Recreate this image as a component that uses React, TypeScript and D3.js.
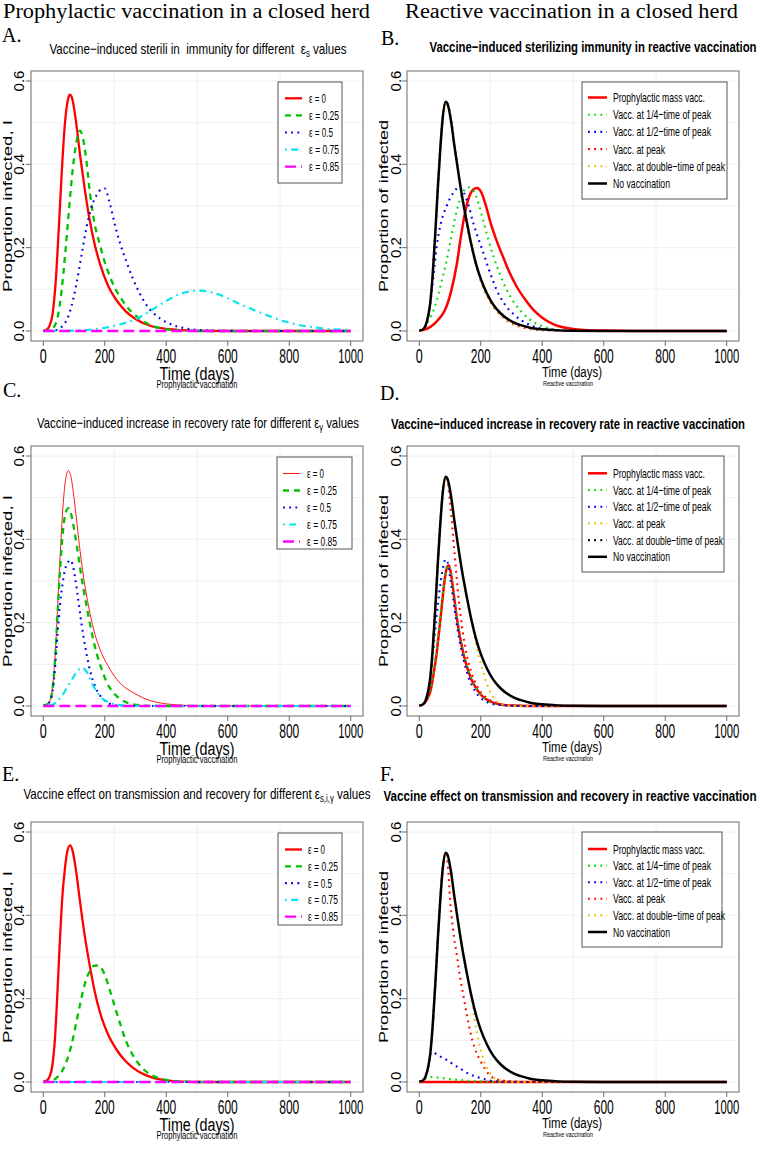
import React from 'react';
import * as d3 from 'd3';

type Pt = [number, number];

// ---------------- data ----------------
const xTickValues = [0, 200, 400, 600, 800, 1000];
const xTickLabels = ['0', '200', '400', '600', '800', '1000'];
const yTickValues = [0, 0.2, 0.4, 0.6];
const yTickLabels = ['0.0', '0.2', '0.4', '0.6'];
const gridValues = [0, 0.1, 0.2, 0.3, 0.4, 0.5, 0.6];

const columnHeaders = ['Prophylactic vaccination in a closed herd', 'Reactive vaccination in a closed herd'];
const panelLetters = ['A.', 'B.', 'C.', 'D.', 'E.', 'F.'];
const epsilonLabels = ['ε = 0', 'ε = 0.25', 'ε = 0.5', 'ε = 0.75', 'ε = 0.85'];
const reactiveLabels = ['Prophylactic mass vacc.', 'Vacc. at 1/4−time of peak', 'Vacc. at 1/2−time of peak', 'Vacc. at peak', 'Vacc. at double−time of peak', 'No vaccination'];
const xAxisTitle = 'Time (days)';
const yTitleLeft = 'Proportion infected, I';
const yTitleRight = 'Proportion of infected';
const subLeft = 'Prophylactic vaccination';
const subRight = 'Reactive vaccination';

const titleA = { main: 'Vaccine−induced sterili in  immunity for different  ε', sub: 's', tail: ' values' };
const titleB = { main: 'Vaccine−induced sterilizing immunity in reactive vaccination', sub: '', tail: '' };
const titleC = { main: 'Vaccine−induced increase in recovery rate for different ε', sub: 'γ', tail: ' values' };
const titleD = { main: 'Vaccine−induced increase in recovery rate in reactive vaccination', sub: '', tail: '' };
const titleE = { main: 'Vaccine effect on transmission and recovery for different ε', sub: 's,i,γ', tail: ' values' };
const titleF = { main: 'Vaccine effect on transmission and recovery in reactive vaccination', sub: '', tail: '' };

// A: prophylactic, sterilizing immunity
const aEps0: Pt[] = [[0,0.001],[10,0.003],[20,0.012],[30,0.04],[40,0.115],[50,0.24],[60,0.38],[70,0.495],[80,0.555],[87,0.567],[95,0.555],[105,0.51],[120,0.42],[135,0.34],[150,0.27],[168,0.205],[185,0.16],[210,0.11],[240,0.072],[270,0.046],[300,0.029],[350,0.012],[400,0.005],[450,0.002],[500,0.0005],[600,0],[1000,0]];
const aEps025: Pt[] = [[0,0],[20,0.002],[30,0.006],[40,0.017],[50,0.045],[60,0.1],[70,0.175],[80,0.26],[90,0.345],[100,0.415],[110,0.462],[119,0.481],[128,0.466],[140,0.41],[152,0.33],[165,0.265],[185,0.205],[200,0.165],[217,0.13],[235,0.1],[250,0.082],[270,0.06],[293,0.042],[320,0.026],[347,0.015],[375,0.008],[400,0.004],[450,0.001],[500,0],[1000,0]];
const aEps05: Pt[] = [[0,0],[40,0.002],[60,0.01],[76,0.026],[90,0.055],[108,0.114],[125,0.185],[141,0.25],[158,0.3],[174,0.327],[188,0.34],[200,0.342],[215,0.31],[233,0.255],[250,0.21],[271,0.165],[290,0.128],[314,0.09],[335,0.063],[358,0.043],[380,0.03],[401,0.021],[430,0.012],[466,0.006],[510,0.002],[560,0.001],[650,0],[1000,0]];
const aEps075: Pt[] = [[0,0],[100,0.001],[150,0.003],[185,0.006],[240,0.014],[293,0.026],[330,0.04],[369,0.058],[400,0.072],[434,0.086],[470,0.094],[505,0.097],[540,0.094],[580,0.085],[618,0.072],[670,0.055],[727,0.038],[780,0.024],[835,0.014],[890,0.008],[943,0.004],[1000,0.003]];
const aEps085: Pt[] = [[0,0],[1000,0]];

// C: prophylactic, increased recovery rate
const cEps0: Pt[] = [[0,0.001],[10,0.003],[20,0.01],[30,0.045],[39,0.127],[47,0.245],[55,0.364],[66,0.498],[74,0.55],[82,0.565],[90,0.55],[100,0.5],[110,0.435],[120,0.37],[135,0.29],[152,0.222],[168,0.172],[185,0.135],[210,0.097],[239,0.064],[265,0.045],[293,0.032],[320,0.021],[347,0.013],[375,0.008],[401,0.005],[450,0.002],[500,0.0005],[600,0],[1000,0]];
const cEps025: Pt[] = [[0,0.001],[10,0.003],[20,0.01],[30,0.042],[39,0.12],[47,0.23],[55,0.33],[64,0.42],[73,0.465],[82,0.475],[90,0.462],[100,0.425],[109,0.385],[120,0.33],[131,0.28],[142,0.235],[158,0.175],[174,0.125],[190,0.088],[207,0.056],[230,0.03],[250,0.017],[270,0.009],[293,0.004],[330,0.001],[380,0],[1000,0]];
const cEps05: Pt[] = [[0,0.001],[10,0.003],[20,0.009],[30,0.035],[38,0.09],[46,0.17],[54,0.24],[62,0.29],[70,0.325],[80,0.345],[88,0.35],[96,0.338],[103,0.31],[110,0.275],[120,0.22],[131,0.165],[142,0.12],[153,0.082],[168,0.048],[185,0.025],[200,0.013],[214,0.006],[240,0.001],[280,0],[1000,0]];
const cEps075: Pt[] = [[0,0],[30,0.003],[40,0.008],[50,0.015],[66,0.03],[80,0.048],[95,0.066],[109,0.082],[120,0.09],[128,0.092],[136,0.087],[145,0.077],[155,0.06],[165,0.045],[178,0.03],[196,0.016],[215,0.008],[240,0.003],[270,0.001],[300,0],[1000,0]];
const cEps085: Pt[] = [[0,0],[1000,0]];

// E: prophylactic, transmission and recovery
const eEps0: Pt[] = [[0,0.001],[10,0.003],[20,0.012],[30,0.042],[38,0.105],[46,0.215],[54,0.34],[62,0.445],[70,0.51],[78,0.553],[87,0.568],[95,0.556],[105,0.515],[120,0.43],[135,0.35],[151,0.28],[168,0.215],[184,0.168],[210,0.115],[238,0.078],[265,0.052],[292,0.034],[320,0.021],[346,0.013],[375,0.007],[400,0.004],[450,0.001],[500,0],[1000,0]];
const eEps025: Pt[] = [[0,0],[20,0.001],[43,0.01],[60,0.025],[76,0.05],[92,0.09],[108,0.145],[122,0.195],[135,0.235],[151,0.266],[165,0.279],[178,0.28],[192,0.27],[206,0.245],[220,0.212],[233,0.18],[250,0.14],[270,0.097],[290,0.066],[314,0.04],[340,0.022],[368,0.011],[400,0.005],[450,0.001],[520,0],[1000,0]];
const eEps05: Pt[] = [[0,0],[1000,0]];
const eEps075: Pt[] = [[0,0],[1000,0]];
const eEps085: Pt[] = [[0,0],[1000,0]];

// No vaccination (same curve in B, D, F)
const noVaccination: Pt[] = [[0,0.001],[10,0.003],[20,0.012],[30,0.04],[36,0.07],[44,0.14],[52,0.234],[60,0.34],[68,0.434],[76,0.51],[86,0.55],[94,0.54],[104,0.5],[115,0.44],[127,0.38],[140,0.32],[155,0.26],[170,0.205],[185,0.16],[200,0.125],[220,0.09],[240,0.064],[265,0.042],[300,0.023],[330,0.014],[360,0.008],[400,0.004],[450,0.0015],[500,0.0005],[600,0],[1000,0]];

// B: reactive, sterilizing immunity
const bProphylactic: Pt[] = [[0,0.001],[20,0.004],[36,0.01],[50,0.018],[65,0.03],[78,0.043],[89,0.06],[105,0.1],[122,0.16],[135,0.225],[149,0.285],[162,0.322],[175,0.339],[188,0.343],[200,0.335],[215,0.305],[231,0.262],[250,0.22],[274,0.175],[295,0.138],[318,0.105],[345,0.075],[372,0.05],[400,0.032],[437,0.016],[480,0.007],[524,0.003],[600,0.001],[700,0],[1000,0]];
const bQuarter: Pt[] = [[0,0.001],[10,0.003],[20,0.011],[30,0.025],[40,0.038],[57,0.074],[73,0.12],[89,0.17],[105,0.23],[122,0.29],[140,0.33],[160,0.345],[178,0.335],[195,0.3],[209,0.262],[225,0.218],[242,0.178],[263,0.135],[285,0.098],[307,0.07],[328,0.05],[355,0.03],[382,0.017],[410,0.009],[437,0.004],[480,0.001],[550,0],[1000,0]];
const bHalf: Pt[] = [[0,0.001],[10,0.003],[20,0.012],[30,0.04],[36,0.07],[43,0.11],[50,0.16],[57,0.205],[70,0.258],[89,0.3],[111,0.332],[130,0.345],[145,0.332],[160,0.302],[176,0.258],[192,0.222],[209,0.186],[230,0.14],[252,0.098],[280,0.062],[307,0.04],[335,0.024],[361,0.014],[390,0.007],[415,0.004],[460,0.001],[520,0],[1000,0]];
const bAtPeak: Pt[] = [[0,0.001],[10,0.003],[20,0.012],[30,0.04],[36,0.07],[44,0.14],[52,0.234],[60,0.34],[68,0.434],[76,0.51],[86,0.55],[95,0.54],[105,0.5],[116,0.44],[128,0.375],[142,0.31],[158,0.245],[174,0.19],[190,0.145],[210,0.1],[235,0.065],[262,0.04],[290,0.022],[325,0.011],[360,0.005],[400,0.002],[450,0.001],[500,0],[1000,0]];
const bDouble: Pt[] = [[0,0.001],[10,0.003],[20,0.012],[30,0.04],[36,0.07],[44,0.14],[52,0.234],[60,0.34],[68,0.434],[76,0.51],[86,0.55],[94,0.54],[104,0.5],[115,0.44],[127,0.38],[140,0.32],[155,0.26],[170,0.205],[185,0.158],[200,0.12],[220,0.085],[240,0.06],[265,0.038],[300,0.02],[330,0.012],[360,0.006],[400,0.003],[450,0.001],[500,0],[1000,0]];

// D: reactive, increased recovery rate
const dProphylactic: Pt[] = [[0,0.001],[10,0.003],[20,0.01],[28,0.02],[36,0.035],[45,0.07],[57,0.13],[66,0.19],[74,0.245],[82,0.3],[90,0.333],[96,0.338],[102,0.322],[111,0.275],[122,0.212],[133,0.163],[144,0.124],[155,0.094],[170,0.063],[187,0.04],[210,0.02],[231,0.011],[260,0.004],[300,0.001],[350,0],[1000,0]];
const dQuarter: Pt[] = [[0,0.001],[10,0.003],[20,0.011],[28,0.022],[36,0.04],[45,0.075],[57,0.14],[66,0.2],[74,0.255],[82,0.305],[90,0.334],[96,0.337],[102,0.32],[111,0.275],[122,0.215],[133,0.166],[150,0.11],[170,0.066],[190,0.037],[215,0.017],[245,0.006],[280,0.002],[350,0],[1000,0]];
const dHalf: Pt[] = [[0,0.001],[10,0.003],[20,0.012],[30,0.04],[36,0.07],[42,0.11],[50,0.17],[60,0.24],[70,0.3],[78,0.335],[85,0.352],[92,0.345],[100,0.31],[110,0.26],[120,0.205],[130,0.16],[145,0.108],[160,0.07],[180,0.037],[200,0.019],[225,0.008],[255,0.003],[300,0.001],[350,0],[1000,0]];
const dAtPeak: Pt[] = [[0,0.001],[10,0.003],[20,0.012],[30,0.04],[36,0.07],[44,0.14],[52,0.234],[60,0.34],[68,0.434],[76,0.51],[86,0.55],[94,0.53],[100,0.49],[106,0.443],[112,0.39],[118,0.34],[125,0.28],[133,0.225],[142,0.175],[155,0.12],[170,0.08],[190,0.045],[215,0.022],[245,0.009],[280,0.003],[330,0.001],[400,0],[1000,0]];
const dDouble: Pt[] = [[0,0.001],[10,0.003],[20,0.012],[30,0.04],[36,0.07],[44,0.14],[52,0.234],[60,0.34],[68,0.434],[76,0.51],[86,0.55],[94,0.54],[104,0.5],[115,0.44],[127,0.38],[140,0.32],[155,0.26],[170,0.205],[178,0.175],[185,0.148],[195,0.115],[205,0.088],[215,0.063],[231,0.033],[247,0.015],[265,0.006],[300,0.001],[350,0],[1000,0]];

// F: reactive, transmission and recovery
const fProphylactic: Pt[] = [[0,0],[1000,0]];
const fQuarter: Pt[] = [[0,0.001],[10,0.003],[20,0.009],[28,0.011],[36,0.012],[50,0.011],[70,0.01],[89,0.008],[115,0.006],[143,0.004],[180,0.002],[220,0.001],[300,0],[1000,0]];
const fHalf: Pt[] = [[0,0.001],[10,0.003],[20,0.012],[30,0.04],[38,0.07],[44,0.072],[57,0.066],[73,0.059],[89,0.053],[105,0.045],[122,0.037],[140,0.029],[155,0.022],[176,0.015],[198,0.01],[220,0.005],[242,0.002],[280,0.001],[350,0],[1000,0]];
const fAtPeak: Pt[] = [[0,0.001],[10,0.003],[20,0.012],[30,0.04],[36,0.07],[44,0.14],[52,0.234],[60,0.34],[68,0.434],[76,0.51],[86,0.55],[94,0.51],[100,0.44],[110,0.365],[122,0.305],[133,0.25],[144,0.205],[155,0.16],[166,0.12],[180,0.082],[198,0.052],[215,0.03],[231,0.015],[250,0.007],[275,0.003],[310,0.001],[360,0],[1000,0]];
const fDouble: Pt[] = [[0,0.001],[10,0.003],[20,0.012],[30,0.04],[36,0.07],[44,0.14],[52,0.234],[60,0.34],[68,0.434],[76,0.51],[86,0.55],[94,0.54],[104,0.5],[115,0.44],[127,0.38],[140,0.32],[155,0.26],[170,0.205],[180,0.15],[190,0.11],[198,0.082],[210,0.052],[220,0.033],[231,0.02],[242,0.011],[258,0.005],[274,0.002],[320,0],[1000,0]];

// ---------------- styles & layout ----------------
const SANS = "'Liberation Sans', Arial, Helvetica, sans-serif";
const SERIF = "'Liberation Serif', 'Times New Roman', serif";
const BOX_H = 270;
const ROW_TOPS = [71, 446, 822];
const COLS = [{ x0: 31, x1: 363 }, { x0: 407, x1: 739 }];

type Sty = { color: string; width: number; dash: string };
const DOT = '1.8,4.4';
const EPS_STYLES: Sty[] = [
  { color: '#FF0000', width: 2.3, dash: '' },
  { color: '#00C000', width: 2.3, dash: '6,5' },
  { color: '#0000EE', width: 2.1, dash: DOT },
  { color: '#00E5EE', width: 2.1, dash: '1.8,4.4,7,4.4' },
  { color: '#FF00FF', width: 2.3, dash: '11,5' },
];
const EPS_STYLES_C: Sty[] = [{ color: '#FF0000', width: 0.9, dash: '' }, ...EPS_STYLES.slice(1)];
const REACT_STYLES: Sty[] = [
  { color: '#FF0000', width: 2.5, dash: '' },
  { color: '#00DD00', width: 2.1, dash: DOT },
  { color: '#0000EE', width: 2.1, dash: DOT },
  { color: '#FF0000', width: 2.1, dash: DOT },
  { color: '#E6C200', width: 2.1, dash: DOT },
  { color: '#000000', width: 2.5, dash: '' },
];
const REACT_LEGEND_D: Sty[] = [REACT_STYLES[0], REACT_STYLES[1], REACT_STYLES[2], REACT_STYLES[4], { color: '#000000', width: 2.1, dash: DOT }, REACT_STYLES[5]];

const epsWidths = [17, 30, 24, 30, 30];
const reactWidths = [92, 98, 98, 52, 112, 57];
const reactWidthsD = [92, 98, 98, 52, 110, 57];
const xTickWidths = [7, 20, 20, 20, 20, 25];

type Legend = { x: number; y: number; w: number; h: number; row0: number; step: number; s0: number; s1: number; tx: number; size: number; labels: string[]; widths: number[]; styles: Sty[] };
type Title = { main: string; sub: string; tail: string };
type PanelCfg = {
  id: string; col: number; row: number;
  series: Pt[][]; styles: Sty[];
  title: Title; titleCx: number; titleY: number; titleW: number; bold: boolean;
  letterX: number; letterY: number; letter: string;
  legend: Legend;
};

const epsLegend = (x: number, y: number, w: number, h: number, row0: number, step: number, s0: number, tx: number, styles: Sty[]): Legend => ({ x, y, w, h, row0, step, s0, s1: s0 + 17, tx, size: 12.5, labels: epsilonLabels, widths: epsWidths, styles });
const reactLegend = (y: number, w: number, h: number, row0: number, step: number, styles: Sty[], widths: number[]): Legend => ({ x: 582, y, w, h, row0, step, s0: 588, s1: 607, tx: 613, size: 13.5, labels: reactiveLabels, widths, styles });

const panels: PanelCfg[] = [
  { id: 'A', col: 0, row: 0, series: [aEps0, aEps025, aEps05, aEps075, aEps085], styles: EPS_STYLES, title: titleA, titleCx: 198, titleY: 54, titleW: 297, bold: false, letterX: 2, letterY: 42, letter: panelLetters[0], legend: epsLegend(278, 82, 64, 101, 98.3, 17.1, 285, 309, EPS_STYLES) },
  { id: 'B', col: 1, row: 0, series: [bProphylactic, bQuarter, bHalf, bAtPeak, bDouble, noVaccination], styles: REACT_STYLES, title: titleB, titleCx: 593, titleY: 52, titleW: 327, bold: true, letterX: 381, letterY: 45, letter: panelLetters[1], legend: reactLegend(82, 145, 117, 97.5, 17.2, REACT_STYLES, reactWidths) },
  { id: 'C', col: 0, row: 1, series: [cEps0, cEps025, cEps05, cEps075, cEps085], styles: EPS_STYLES_C, title: titleC, titleCx: 198, titleY: 428, titleW: 322, bold: false, letterX: 3, letterY: 397, letter: panelLetters[2], legend: epsLegend(277, 457, 75, 92, 473.5, 17, 283, 307, EPS_STYLES_C) },
  { id: 'D', col: 1, row: 1, series: [dProphylactic, dQuarter, dHalf, dAtPeak, dDouble, noVaccination], styles: REACT_STYLES, title: titleD, titleCx: 568, titleY: 429, titleW: 354, bold: true, letterX: 380, letterY: 400, letter: panelLetters[3], legend: reactLegend(456, 142, 116, 473.3, 16.7, REACT_LEGEND_D, reactWidthsD) },
  { id: 'E', col: 0, row: 2, series: [eEps0, eEps025, eEps05, eEps075, eEps085], styles: EPS_STYLES, title: titleE, titleCx: 197, titleY: 799, titleW: 347, bold: false, letterX: 2, letterY: 781, letter: panelLetters[4], legend: epsLegend(278, 833, 64, 92, 849.5, 16.8, 285, 308, EPS_STYLES) },
  { id: 'F', col: 1, row: 2, series: [fProphylactic, fQuarter, fHalf, fAtPeak, fDouble, noVaccination], styles: REACT_STYLES, title: titleF, titleCx: 570, titleY: 801, titleW: 373, bold: true, letterX: 380, letterY: 781, letter: panelLetters[5], legend: reactLegend(832, 140, 115, 849, 16.6, REACT_STYLES, reactWidths) },
];

function Panel({ p }: { p: PanelCfg }) {
  const { x0, x1 } = COLS[p.col];
  const top = ROW_TOPS[p.row];
  const bottom = top + BOX_H;
  const left = p.col === 0;
  const x = d3.scaleLinear().domain([-40, 1040]).range([x0, x1]);
  const y = d3.scaleLinear().domain([-0.024, 0.624]).range([bottom, top]);
  const line = d3.line<Pt>().x(d => x(d[0])).y(d => y(d[1])).curve(d3.curveMonotoneX);
  const clipId = `clip${p.id}`;
  const gridX = [1, 2, 3].map(i => x0 + ((x1 - x0) * i) / 4);
  const cx = (x0 + x1) / 2;
  const cy = (top + bottom) / 2;
  const lg = p.legend;
  const yTickX = left ? 23.5 : 401;
  const yLabX = left ? 11.5 : 387.5;
  return (
    <g>
      <defs>
        <clipPath id={clipId}><rect x={x0} y={top} width={x1 - x0} height={BOX_H} /></clipPath>
      </defs>
      {gridX.map((gx, i) => <line key={'gx' + i} x1={gx} x2={gx} y1={top} y2={bottom} stroke="#ececec" strokeWidth={0.8} />)}
      {gridValues.map((v, i) => <line key={'gy' + i} x1={x0} x2={x1} y1={y(v)} y2={y(v)} stroke="#ececec" strokeWidth={0.8} />)}
      <g clipPath={`url(#${clipId})`}>
        {p.series.map((s, i) => (
          <path key={i} d={line(s) || ''} fill="none" stroke={p.styles[i].color} strokeWidth={p.styles[i].width} strokeDasharray={p.styles[i].dash || undefined} strokeLinejoin="round" />
        ))}
      </g>
      <rect x={x0} y={top} width={x1 - x0} height={BOX_H} fill="none" stroke="#6a6a6a" strokeWidth={1} />
      {xTickValues.map((v, i) => (
        <g key={'xt' + i}>
          <line x1={x(v)} x2={x(v)} y1={bottom} y2={bottom + 5} stroke="#6a6a6a" />
          <text x={x(v)} y={bottom + 22} textAnchor="middle" fontFamily={SANS} fontSize={20} textLength={xTickWidths[i]} lengthAdjust="spacingAndGlyphs">{xTickLabels[i]}</text>
        </g>
      ))}
      {left ? (
        <>
          <text x={cx} y={bottom + 39} textAnchor="middle" fontFamily={SANS} fontSize={18} textLength={75} lengthAdjust="spacingAndGlyphs">{xAxisTitle}</text>
          <text x={cx} y={bottom + 46.5} textAnchor="middle" fontFamily={SANS} fontSize={10} textLength={81} lengthAdjust="spacingAndGlyphs">{subLeft}</text>
        </>
      ) : (
        <>
          <text x={cx - 1} y={bottom + 36} textAnchor="middle" fontFamily={SANS} fontSize={14} textLength={60} lengthAdjust="spacingAndGlyphs">{xAxisTitle}</text>
          <text x={cx - 5} y={bottom + 45} textAnchor="middle" fontFamily={SANS} fontSize={7} textLength={50} lengthAdjust="spacingAndGlyphs">{subRight}</text>
        </>
      )}
      {yTickValues.map((v, i) => (
        <g key={'yt' + i}>
          <line x1={x0 - 5} x2={x0} y1={y(v)} y2={y(v)} stroke="#6a6a6a" />
          <text transform={`translate(${yTickX},${y(v)}) rotate(-90)`} textAnchor="middle" fontFamily={SANS} fontSize={15}>{yTickLabels[i]}</text>
        </g>
      ))}
      <text transform={`translate(${yLabX},${cy}) rotate(-90) scale(1,0.78)`} textAnchor="middle" fontFamily={SANS} fontSize={15.5} textLength={172} lengthAdjust="spacingAndGlyphs">{left ? yTitleLeft : yTitleRight}</text>
      <text x={p.titleCx} y={p.titleY} textAnchor="middle" fontFamily={SANS} fontSize={15} fontWeight={p.bold ? 'bold' : 'normal'} textLength={p.titleW} lengthAdjust="spacingAndGlyphs" style={{ whiteSpace: 'pre' }}>
        {p.title.main}
        {p.title.sub ? <tspan dy={3} fontSize={10}>{p.title.sub}</tspan> : null}
        {p.title.sub ? <tspan dy={-3}>{p.title.tail}</tspan> : null}
      </text>
      <text x={p.letterX} y={p.letterY} fontFamily={SERIF} fontSize={20}>{p.letter}</text>
      <rect x={lg.x} y={lg.y} width={lg.w} height={lg.h} fill="#fff" stroke="#555" strokeWidth={1} />
      {lg.labels.map((lab, i) => {
        const ry = lg.row0 + i * lg.step;
        const st = lg.styles[i];
        return (
          <g key={'lg' + i}>
            <line x1={lg.s0} x2={lg.s1} y1={ry} y2={ry} stroke={st.color} strokeWidth={st.width} strokeDasharray={st.dash || undefined} />
            <text x={lg.tx} y={ry + 4.5} fontFamily={SANS} fontSize={lg.size} textLength={lg.widths[i]} lengthAdjust="spacingAndGlyphs" style={{ whiteSpace: 'pre' }}>{lab}</text>
          </g>
        );
      })}
    </g>
  );
}

export default function App() {
  return (
    <svg width={760} height={1149} viewBox="0 0 760 1149" style={{ display: 'block', position: 'absolute', left: 0, top: 0, background: '#fff' }}>
      <rect x={0} y={0} width={760} height={1149} fill="#fff" />
      <text x={3} y={18} fontFamily={SERIF} fontSize={20} textLength={367} lengthAdjust="spacingAndGlyphs">{columnHeaders[0]}</text>
      <text x={405} y={18} fontFamily={SERIF} fontSize={20} textLength={333} lengthAdjust="spacingAndGlyphs">{columnHeaders[1]}</text>
      {panels.map(p => <Panel key={p.id} p={p} />)}
    </svg>
  );
}
